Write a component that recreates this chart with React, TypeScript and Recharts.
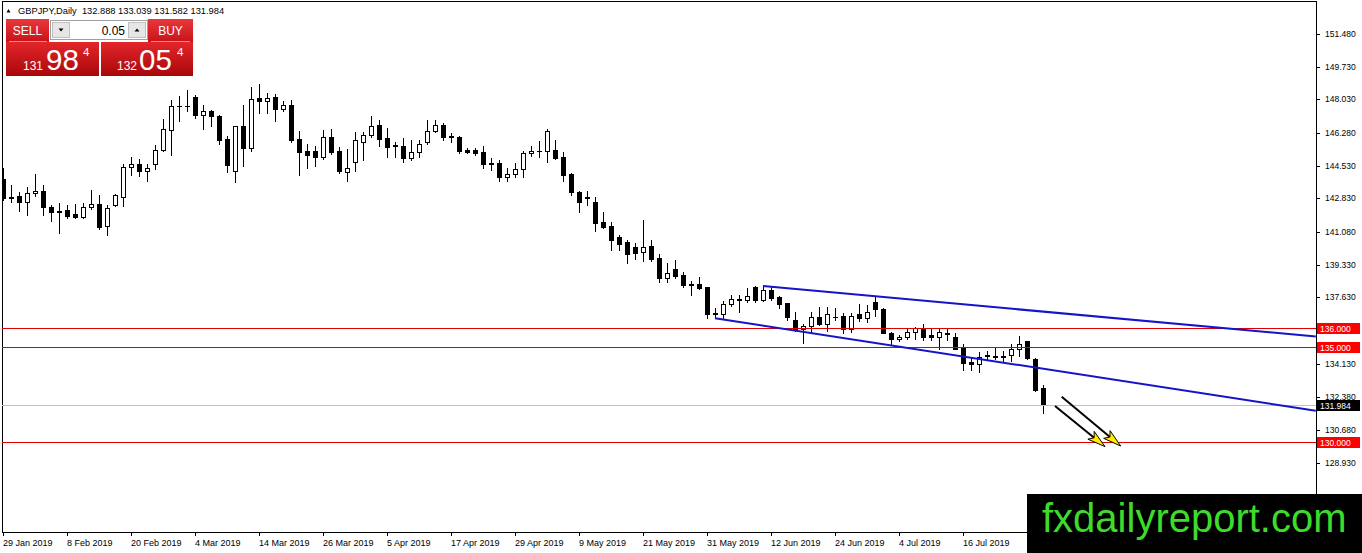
import { ComposedChart, Bar, XAxis, YAxis, ReferenceLine, ReferenceDot, ReferenceArea } from 'recharts';

// GBPJPY daily, 29 Jan 2019 .. 30 Jul 2019 (one bar per weekday)
const openPx = [
  143.84, 142.89, 142.95, 142.63, 143.11, 143.21, 142.37, 142.17, 142.21, 142.0,
  141.84, 142.37, 142.53, 141.37, 142.47, 142.89, 144.47, 144.63, 144.26, 144.63,
  145.37, 146.42, 147.66, 147.7, 148.16, 147.21, 147.42, 147.16, 145.95, 144.26,
  146.63, 145.47, 148.1, 147.95, 148.16, 147.53, 147.74, 145.95, 145.32, 145.32,
  145.0, 146.05, 145.32, 144.21, 144.74, 145.79, 146.16, 146.68, 146.0, 145.63,
  145.58, 144.95, 145.26, 145.79, 146.37, 146.68, 146.05, 146.05, 145.37, 145.37,
  145.26, 144.68, 144.68, 143.95, 144.11, 144.37, 145.21, 145.32, 145.32, 145.37,
  145.0, 144.11, 143.16, 142.89, 142.63, 141.58, 141.37, 140.79, 140.53, 140.26,
  140.0, 140.32, 139.68, 138.63, 139.11, 138.79, 138.32, 138.32, 138.16, 136.79,
  136.74, 137.26, 137.53, 137.47, 138.16, 137.47, 138.0, 137.63, 137.32, 136.42,
  135.95, 136.11, 136.58, 136.21, 136.58, 136.63, 135.95, 136.74, 136.53, 137.37,
  137.0, 135.79, 135.47, 135.53, 135.84, 136.05, 135.68, 135.53, 135.74, 135.58,
  135.0, 134.26, 134.16, 134.58, 134.53, 134.58, 134.63, 134.95, 135.32, 134.42,
  132.888,
];
const highPx = [
  144.42, 143.53, 143.16, 143.42, 144.11, 143.53, 142.47, 142.58, 142.47, 142.53,
  142.58, 143.26, 143.0, 142.47, 143.05, 144.63, 145.0, 144.89, 144.63, 145.63,
  147.0, 148.0, 148.21, 148.53, 148.26, 147.74, 147.45, 147.21, 146.11, 146.65,
  147.74, 148.68, 148.84, 148.37, 148.32, 147.95, 148.0, 146.37, 145.68, 145.58,
  146.42, 146.47, 145.53, 145.42, 146.32, 146.32, 147.16, 146.95, 146.53, 145.79,
  146.0, 145.89, 145.89, 146.95, 146.95, 146.79, 146.26, 146.08, 145.47, 145.47,
  145.58, 144.95, 144.84, 144.42, 144.68, 145.32, 145.58, 145.84, 146.47, 145.89,
  145.26, 144.16, 143.21, 143.21, 142.89, 142.11, 141.58, 140.89, 140.63, 140.47,
  141.68, 140.63, 139.89, 139.42, 139.58, 138.95, 138.47, 138.68, 138.18, 137.05,
  137.42, 137.74, 137.74, 138.11, 138.21, 138.26, 138.16, 137.68, 137.34, 136.89,
  136.21, 136.89, 137.11, 137.11, 137.05, 136.79, 136.79, 137.26, 137.21, 137.68,
  137.05, 135.84, 135.68, 136.0, 136.08, 136.21, 136.0, 136.0, 136.0, 135.79,
  135.21, 134.47, 134.79, 134.84, 135.0, 134.84, 135.21, 135.63, 135.37, 134.47,
  133.039,
];
const lowPx = [
  142.74, 142.63, 142.16, 141.95, 142.95, 141.95, 141.63, 141.0, 141.79, 141.79,
  141.79, 142.26, 141.21, 140.89, 142.42, 142.42, 144.05, 144.0, 143.74, 144.37,
  145.32, 145.11, 146.89, 147.42, 147.05, 146.47, 146.63, 145.68, 144.21, 143.68,
  144.53, 145.32, 147.32, 147.32, 146.89, 147.42, 145.79, 144.05, 144.42, 144.53,
  144.89, 145.16, 144.16, 143.74, 144.26, 144.84, 146.05, 145.58, 145.0, 145.0,
  144.74, 144.84, 145.0, 145.68, 146.32, 145.89, 145.79, 145.21, 145.21, 145.11,
  144.42, 144.32, 143.74, 143.74, 143.95, 143.95, 145.05, 145.0, 144.74, 144.89,
  143.74, 143.0, 142.11, 142.47, 141.11, 141.26, 140.11, 140.11, 139.42, 139.63,
  139.53, 139.53, 138.42, 138.42, 138.63, 138.16, 137.74, 138.08, 136.53, 136.58,
  136.53, 137.16, 136.89, 137.37, 137.37, 137.42, 137.47, 137.05, 136.42, 135.89,
  135.26, 135.84, 136.16, 135.89, 136.42, 135.74, 135.84, 136.37, 136.32, 136.68,
  135.74, 135.16, 135.37, 135.47, 135.47, 135.42, 135.42, 134.95, 135.42, 134.93,
  133.84, 133.84, 133.74, 134.42, 134.42, 134.32, 134.32, 134.58, 134.42, 132.74,
  131.582,
];
const closePx = [
  142.84, 142.87, 142.63, 143.11, 143.21, 142.37, 142.11, 142.14, 141.89, 141.84,
  142.37, 142.53, 141.32, 142.32, 143.0, 144.47, 144.63, 144.26, 144.42, 145.37,
  146.47, 147.68, 147.7, 147.67, 147.21, 147.42, 147.16, 145.89, 144.58, 146.63,
  145.47, 148.05, 147.95, 148.1, 147.53, 147.74, 145.89, 145.26, 145.11, 145.0,
  146.05, 145.26, 144.26, 144.42, 145.89, 146.16, 146.63, 145.95, 145.53, 145.6,
  144.95, 145.26, 145.68, 146.37, 146.68, 146.05, 146.08, 145.32, 145.26, 145.21,
  144.63, 144.66, 143.95, 144.11, 144.37, 145.21, 145.32, 145.34, 146.37, 144.95,
  144.05, 143.16, 142.63, 142.87, 141.53, 141.32, 140.63, 140.42, 139.89, 139.95,
  140.26, 139.63, 138.63, 138.89, 138.74, 138.26, 138.3, 138.11, 136.74, 136.77,
  137.26, 137.53, 137.51, 137.68, 137.47, 138.0, 137.58, 137.26, 136.58, 135.95,
  136.11, 136.58, 136.21, 136.74, 136.6, 135.95, 136.63, 136.53, 136.84, 137.0,
  135.79, 135.47, 135.58, 135.84, 136.05, 135.53, 135.53, 135.84, 135.72, 134.95,
  134.21, 134.16, 134.53, 134.6, 134.55, 134.53, 134.95, 135.21, 134.47, 132.79,
  131.984,
];

const dateTicks = [0, 8, 16, 24, 32, 40, 48, 56, 64, 72, 80, 88, 96, 104, 112, 120];
const dateLabels = [
  '29 Jan 2019', '8 Feb 2019', '20 Feb 2019', '4 Mar 2019', '14 Mar 2019', '26 Mar 2019',
  '5 Apr 2019', '17 Apr 2019', '29 Apr 2019', '9 May 2019', '21 May 2019', '31 May 2019',
  '12 Jun 2019', '24 Jun 2019', '4 Jul 2019', '16 Jul 2019',
];
const priceTicks = [
  127.18, 128.93, 130.68, 132.38, 134.13, 135.88, 137.63, 139.33,
  141.08, 142.83, 144.53, 146.28, 148.03, 149.73, 151.48,
];
const levels = [136, 135, 130];
const lastPrice = 131.984;
const upperTrend = [{ x: 95, y: 138.23 }, { x: 164.1, y: 135.58 }];
const lowerTrend = [{ x: 89, y: 136.54 }, { x: 164.1, y: 131.68 }];
const arrowFrom = [{ x: 131.5, y: 131.93 }, { x: 132.34, y: 132.42 }];
const arrowTo = [{ x: 137.75, y: 129.8 }, { x: 139.71, y: 129.83 }];

const X_MIN = -0.125;
const X_MAX = 164.125;
const PPU = 19.05;
const Y_MAX = 136 + 327.5 / PPU;
const Y_MIN = 136 - 203.5 / PPU;
const FONT = '"Liberation Sans", Arial, sans-serif';
const MARGIN = { top: 1, right: 0, bottom: 0, left: 2 };

const rows = openPx.map((o, i) => ({ i, o, h: highPx[i], l: lowPx[i], c: closePx[i] }));
const last = rows[rows.length - 1];

function Candle(props: any) {
  const { x, y, width, height, payload } = props;
  const { o, h, l, c } = payload;
  const cx = Math.round(x + width / 2);
  const ppu = height / (h - l);
  const py = (v: number) => y + (h - v) * ppu;
  const top = Math.round(py(Math.max(o, c)));
  const bot = Math.round(py(Math.min(o, c)));
  return (
    <g>
      <line x1={cx + 0.5} x2={cx + 0.5} y1={Math.round(y)} y2={Math.round(y + height) + 1} stroke="#000" />
      {bot - top < 1
        ? <line x1={cx - 2} x2={cx + 3} y1={top + 0.5} y2={top + 0.5} stroke="#000" />
        : <rect x={cx - 1.5} y={top + 0.5} width={4} height={bot - top} fill={c >= o ? '#fff' : '#000'} stroke="#000" />}
    </g>
  );
}

function XTick({ x, y, payload }: any) {
  const cx = Math.round(x) + 0.5;
  const idx = dateTicks.indexOf(payload.value);
  return (
    <g>
      <line x1={cx} x2={cx} y1={y} y2={y + 4} stroke="#000" />
      <text x={cx - 0.5} y={y + 13.5} fontSize={9} fontFamily={FONT} fill="#000">{dateLabels[idx]}</text>
    </g>
  );
}

function YTick({ x, y, payload }: any) {
  const ty = Math.round(y) + 0.5;
  return (
    <g>
      <line x1={x} x2={x + 4} y1={ty} y2={ty} stroke="#000" />
      <text x={x + 9} y={y + 3} fontSize={8.5} fontFamily={FONT} fill="#000">{payload.value.toFixed(3)}</text>
    </g>
  );
}

function FlatLine({ x1, x2, y1, color }: any) {
  const y = Math.round(y1 - 0.5) + 0.5;
  return <line x1={x1} x2={x2} y1={y} y2={y} stroke={color} strokeWidth={1} />;
}

function Arrow({ x1, y1, x2, y2 }: any) {
  const len = Math.hypot(x2 - x1, y2 - y1);
  const ux = (x2 - x1) / len;
  const uy = (y2 - y1) / len;
  const bx = x2 - ux * 18;
  const by = y2 - uy * 18;
  const pts = `${x2},${y2} ${bx - uy * 5},${by + ux * 5} ${bx + ux * 4},${by + uy * 4} ${bx + uy * 5},${by - ux * 5}`;
  return (
    <g>
      <line x1={x1} y1={y1} x2={bx + ux * 4} y2={by + uy * 4} stroke="#000" strokeWidth={2} />
      <polygon points={pts} fill="#ffec00" stroke="#000" strokeWidth={1} />
    </g>
  );
}

function PriceTag({ cx, cy, text, bg }: any) {
  const x = Math.round(cx) + 1;
  const y = Math.round(cy - 0.5);
  return (
    <g>
      <rect x={x} y={y - 5} width={43} height={11} fill={bg} />
      <text x={x + 3} y={y + 3.5} fontSize={8.5} fontFamily={FONT} fill="#fff">{text}</text>
    </g>
  );
}

function TradePanel() {
  return (
    <g fontFamily={FONT}>
      <defs>
        <linearGradient id="redTop" x1="0" y1="0" x2="0" y2="1">
          <stop offset="0" stopColor="#e8383b" />
          <stop offset="1" stopColor="#c91217" />
        </linearGradient>
        <linearGradient id="redLow" x1="0" y1="0" x2="0" y2="1">
          <stop offset="0" stopColor="#e3262a" />
          <stop offset="1" stopColor="#a9070b" />
        </linearGradient>
      </defs>
      <rect x={6} y={19} width={43} height={23} fill="url(#redTop)" />
      <rect x={148} y={19} width={45} height={23} fill="url(#redTop)" />
      <rect x={6} y={42} width={93} height={34} fill="url(#redLow)" />
      <rect x={101} y={42} width={92} height={34} fill="url(#redLow)" />
      <line x1={9} x2={47} y1={41.5} y2={41.5} stroke="#f08a8a" />
      <line x1={151} x2={190} y1={41.5} y2={41.5} stroke="#f08a8a" />
      <text x={27.5} y={34.5} fontSize={12} fill="#fff" textAnchor="middle">SELL</text>
      <text x={170.5} y={34.5} fontSize={12} fill="#fff" textAnchor="middle">BUY</text>
      <rect x={50.5} y={20.5} width={97} height={19} fill="#fff" stroke="#a0a0a0" />
      <rect x={52.5} y={22.5} width={17} height={15} fill="#e6e6e6" stroke="#c0c0c0" />
      <rect x={128.5} y={22.5} width={17} height={15} fill="#e6e6e6" stroke="#c0c0c0" />
      <polygon points="58.5,28.5 63.5,28.5 61,31.5" fill="#000" />
      <polygon points="134.5,31.5 139.5,31.5 137,28.5" fill="#000" />
      <text x={125} y={34.5} fontSize={12} fill="#000" textAnchor="end">0.05</text>
      <text x={23} y={69.5} fontSize={12} fill="#fff">131</text>
      <text x={46} y={69.5} fontSize={29.5} fill="#fff">98</text>
      <text x={83} y={55.5} fontSize={11.5} fill="#fff">4</text>
      <text x={117} y={69.5} fontSize={12} fill="#fff">132</text>
      <text x={139} y={69.5} fontSize={29.5} fill="#fff">05</text>
      <text x={177} y={55.5} fontSize={11.5} fill="#fff">4</text>
    </g>
  );
}

function Axes({ showTicks }: { showTicks: boolean }) {
  return (
    <>
      <XAxis
        type="number" dataKey="i" domain={[X_MIN, X_MAX]} allowDataOverflow scale="linear"
        ticks={dateTicks} interval={0} height={21} axisLine={false} tickLine={false}
        tickSize={0} tickMargin={0} tick={showTicks ? (p: any) => <XTick {...p} /> : false}
      />
      <YAxis
        orientation="right" type="number" domain={[Y_MIN, Y_MAX]} allowDataOverflow scale="linear"
        ticks={priceTicks} interval={0} width={46} axisLine={false} tickLine={false}
        tickSize={0} tickMargin={0} tick={showTicks ? (p: any) => <YTick {...p} /> : false}
      />
    </>
  );
}

export default function App() {
  const header = `GBPJPY,Daily  ${last.o.toFixed(3)} ${last.h.toFixed(3)} ${last.l.toFixed(3)} ${last.c.toFixed(3)}`;
  return (
    <div style={{ position: 'relative', width: 1362, height: 553, background: '#fff', overflow: 'hidden' }}>
      <style>{'body{margin:0}'}</style>
      <ComposedChart width={1362} height={553} data={rows} margin={MARGIN}>
        {Axes({ showTicks: true })}
        <ReferenceArea
          x1={X_MIN} x2={X_MAX} y1={Y_MIN} y2={Y_MAX}
          shape={(p: any) => <rect x={p.x + 0.5} y={p.y + 0.5} width={p.width} height={p.height} fill="none" stroke="#000" />}
        />
        {levels.map((v) => (
          <ReferenceLine key={v} y={v} shape={(p: any) => <FlatLine {...p} color="#e00000" />} />
        ))}
        <ReferenceLine y={lastPrice} shape={(p: any) => <FlatLine {...p} color="#c0c0c0" />} />
        <Bar dataKey={(d: any) => [d.l, d.h]} barSize={5} shape={(p: any) => <Candle {...p} />} isAnimationActive={false} />
        <ReferenceLine segment={upperTrend} stroke="#1414c8" strokeWidth={2} />
        <ReferenceLine segment={lowerTrend} stroke="#1414c8" strokeWidth={2} />
        {arrowFrom.map((a, k) => (
          <ReferenceLine key={k} segment={[a, arrowTo[k]]} shape={(p: any) => <Arrow {...p} />} />
        ))}
      </ComposedChart>
      {/* price tags sit above the axis labels, as in the terminal */}
      <div style={{ position: 'absolute', left: 0, top: 0 }}>
        <ComposedChart width={1362} height={553} data={rows} margin={MARGIN}>
          {Axes({ showTicks: false })}
          {levels.map((v) => (
            <ReferenceDot key={v} x={164.1} y={v} r={0}
              shape={(p: any) => <PriceTag {...p} text={v.toFixed(3)} bg="#ff0000" />} />
          ))}
          <ReferenceDot x={164.1} y={lastPrice} r={0}
            shape={(p: any) => <PriceTag {...p} text={lastPrice.toFixed(3)} bg="#000" />} />
        </ComposedChart>
      </div>
      <svg width={1362} height={553} style={{ position: 'absolute', left: 0, top: 0, pointerEvents: 'none' }}>
        <polygon points="6.5,12.5 10.5,12.5 8.5,9" fill="#000" />
        <text x={18} y={14} fontSize={9.3} fontFamily={FONT} fill="#000" style={{ whiteSpace: 'pre' }}>{header}</text>
        <TradePanel />
        <rect x={1027} y={494} width={335} height={59} fill="#000" />
        <text x={1042} y={532} fontSize={40} fontFamily={FONT} fill="#3ddc2a">fxdailyreport.com</text>
      </svg>
    </div>
  );
}
